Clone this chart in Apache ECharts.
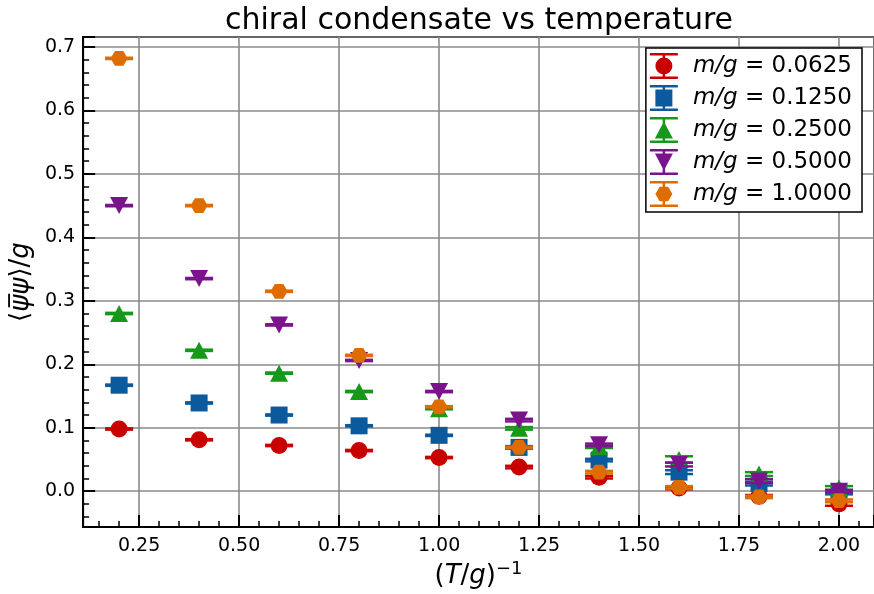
<!DOCTYPE html>
<html>
<head>
<meta charset="utf-8">
<script src="https://cdn.jsdelivr.net/npm/echarts@6/dist/echarts.min.js"></script>
<style>
  html, body { margin: 0; padding: 0; background: #fff; }
  #chart { width: 874px; height: 594px; }
</style>
</head>
<body>
<div id="chart"></div>
<script>
// inverse temperature (T/g)^-1
const invTemp = [0.2, 0.4, 0.6, 0.8, 1.0, 1.2, 1.4, 1.6, 1.8, 2.0];

// mass labels m/g
const massLabels = ['0.0625', '0.1250', '0.2500', '0.5000', '1.0000'];

// condensate <psibar psi>/g for each mass
const cond0625 = [0.098, 0.081, 0.072, 0.064, 0.053, 0.038, 0.022, 0.005, -0.008, -0.020];
const cond1250 = [0.167, 0.139, 0.120, 0.103, 0.088, 0.069, 0.049, 0.030, 0.012, -0.002];
const cond2500 = [0.280, 0.222, 0.186, 0.157, 0.130, 0.099, 0.070, 0.050, 0.027, 0.005];
const cond5000 = [0.450, 0.335, 0.262, 0.206, 0.157, 0.112, 0.073, 0.042, 0.016, 0.000];
const cond10000 = [0.682, 0.450, 0.315, 0.214, 0.133, 0.069, 0.030, 0.006, -0.009, -0.015];

// statistical errors
const err0625 = [0.001, 0.001, 0.001, 0.001, 0.001, 0.002, 0.002, 0.002, 0.002, 0.003];
const err1250 = [0.001, 0.001, 0.001, 0.001, 0.001, 0.002, 0.002, 0.003, 0.003, 0.003];
const err2500 = [0.001, 0.001, 0.001, 0.001, 0.001, 0.002, 0.002, 0.005, 0.003, 0.003];
const err5000 = [0.001, 0.001, 0.001, 0.001, 0.001, 0.002, 0.002, 0.003, 0.003, 0.002];
const err10000 = [0.001, 0.001, 0.001, 0.001, 0.001, 0.001, 0.002, 0.002, 0.002, 0.002];

const condSets = [cond0625, cond1250, cond2500, cond5000, cond10000];
const errSets = [err0625, err1250, err2500, err5000, err10000];
const colors = ['#c80000', '#0b5a9e', '#16981a', '#7b148c', '#dd6d00'];

const FONT = 'DejaVu Sans';

// marker shapes (data symbols)
const HEX = 'path://M0,0.5 L0.25,0.067 L0.75,0.067 L1,0.5 L0.75,0.933 L0.25,0.933 Z';
const symbols = [
  { symbol: 'circle', size: 17 },
  { symbol: 'rect', size: 17 },
  { symbol: 'triangle', size: [18, 17] },
  { symbol: 'path://M0,0 L1,0 L0.5,1 Z', size: [18, 17] },
  { symbol: HEX, size: [17, 14.7] }
];

// legend handles: error bar with caps plus marker, in a 28x26 box
const BAR = 'M0,0 H28 V2.5 H0 Z M0,23.5 H28 V26 H0 Z M12.75,0 H15.25 V26 H12.75 Z ';
const legendIcons = [
  'path://' + BAR + 'M5.5,13 A8.5,8.5 0 1,1 22.5,13 A8.5,8.5 0 1,1 5.5,13 Z',
  'path://' + BAR + 'M5.5,4.5 H22.5 V21.5 H5.5 Z',
  'path://' + BAR + 'M14,4.5 L23,21.5 L5,21.5 Z',
  'path://' + BAR + 'M5,4.5 L23,4.5 L14,21.5 Z',
  'path://' + BAR + 'M5.5,13 L9.75,5.65 L18.25,5.65 L22.5,13 L18.25,20.35 L9.75,20.35 Z'
];

function seriesName(i) { return 'm/g = ' + massLabels[i]; }

function errorBars(color) {
  return function (params, api) {
    const x = api.value(0), y = api.value(1), e = api.value(2);
    const hi = api.coord([x, y + e]);
    const lo = api.coord([x, y - e]);
    const cap = 14;
    const style = { stroke: color, lineWidth: 2.5, fill: null };
    return {
      type: 'group',
      children: [
        { type: 'line', shape: { x1: hi[0], y1: hi[1], x2: lo[0], y2: lo[1] }, style: style },
        { type: 'line', shape: { x1: hi[0] - cap, y1: hi[1], x2: hi[0] + cap, y2: hi[1] }, style: style },
        { type: 'line', shape: { x1: lo[0] - cap, y1: lo[1], x2: lo[0] + cap, y2: lo[1] }, style: style }
      ]
    };
  };
}

const series = [];
condSets.forEach(function (vals, i) {
  series.push({
    type: 'custom',
    name: seriesName(i) + ' err',
    renderItem: errorBars(colors[i]),
    data: invTemp.map(function (x, k) { return [x, vals[k], errSets[i][k]]; }),
    z: 2 + i * 2,
    silent: true
  });
  series.push({
    type: 'scatter',
    name: seriesName(i),
    symbol: symbols[i].symbol,
    symbolSize: symbols[i].size,
    itemStyle: { color: colors[i], opacity: 1 },
    data: invTemp.map(function (x, k) { return [x, vals[k]]; }),
    z: 3 + i * 2
  });
});

const chart = echarts.init(document.getElementById('chart'), null, { renderer: 'canvas' });

chart.setOption({
  animation: false,
  backgroundColor: '#fff',
  textStyle: { fontFamily: FONT },
  title: {
    text: 'chiral condensate vs temperature',
    left: 474,
    textAlign: 'center',
    top: 1,
    textStyle: { fontFamily: FONT, fontSize: 30, fontWeight: 'normal', color: '#000' }
  },
  grid: {
    left: 83, right: 0, top: 37, bottom: 66,
    show: true, borderColor: '#000', borderWidth: 2, backgroundColor: 'transparent',
    containLabel: false
  },
  legend: {
    orient: 'vertical',
    right: 12,
    top: 48,
    backgroundColor: '#fff',
    borderColor: '#000',
    borderWidth: 1.5,
    borderRadius: 0,
    padding: [5, 10, 5, 4],
    itemWidth: 28,
    itemHeight: 26,
    itemGap: 6,
    data: massLabels.map(function (m, i) { return { name: seriesName(i), icon: legendIcons[i] }; }),
    formatter: function (name) {
      const m = name.split('= ')[1];
      return '{i|m/g}{n| = ' + m + '}';
    },
    textStyle: {
      color: '#000',
      padding: [0, 0, 0, 10],
      rich: {
        i: { fontFamily: FONT, fontStyle: 'italic', fontSize: 23, color: '#000' },
        n: { fontFamily: FONT, fontSize: 23, color: '#000' }
      }
    }
  },
  xAxis: {
    type: 'value',
    min: 0.11,
    max: 2.0875,
    minInterval: 0.25,
    maxInterval: 0.25,
    splitNumber: 8,
    name: '{n|(}{i|T}{n|/}{i|g}{n|)}{s|\u22121}',
    nameLocation: 'middle',
    nameGap: 32,
    nameTextStyle: {
      rich: {
        n: { fontFamily: FONT, fontSize: 26, color: '#000' },
        i: { fontFamily: FONT, fontStyle: 'italic', fontSize: 26, color: '#000' },
        s: { fontFamily: FONT, fontSize: 18, color: '#000', verticalAlign: 'top', padding: [0, 0, 14, 0] }
      }
    },
    axisLine: { show: true, onZero: false, lineStyle: { color: '#000', width: 2 } },
    axisTick: { show: true, inside: true, length: 12, lineStyle: { color: '#000', width: 2 } },
    minorTick: { show: true, splitNumber: 5, length: 6, lineStyle: { color: '#000', width: 1.5 } },
    splitLine: { show: true, lineStyle: { color: '#8a8a8a', width: 1.6 } },
    axisLabel: {
      showMinLabel: false, showMaxLabel: false,
      margin: 9,
      fontFamily: FONT, fontSize: 19, color: '#000',
      formatter: function (v) { return v.toFixed(2); }
    }
  },
  yAxis: {
    type: 'value',
    min: -0.0566,
    max: 0.7157,
    minInterval: 0.1,
    maxInterval: 0.1,
    splitNumber: 8,
    name: '{n|\u27e8}{i|\u03c8\u0305\u03c8}{n|\u27e9/}{i|g}',
    nameLocation: 'middle',
    nameRotate: 90,
    nameGap: 48,
    nameTextStyle: {
      rich: {
        n: { fontFamily: FONT, fontSize: 26, color: '#000' },
        i: { fontFamily: FONT, fontStyle: 'italic', fontSize: 26, color: '#000' }
      }
    },
    axisLine: { show: true, onZero: false, lineStyle: { color: '#000', width: 2 } },
    axisTick: { show: true, inside: true, length: 12, lineStyle: { color: '#000', width: 2 } },
    minorTick: { show: true, splitNumber: 5, length: 6, lineStyle: { color: '#000', width: 1.5 } },
    splitLine: { show: true, lineStyle: { color: '#8a8a8a', width: 1.6 } },
    axisLabel: {
      showMinLabel: false, showMaxLabel: false,
      margin: 8,
      fontFamily: FONT, fontSize: 19, color: '#000',
      formatter: function (v) { return v.toFixed(1); }
    }
  },
  series: series
});
</script>
</body>
</html>
